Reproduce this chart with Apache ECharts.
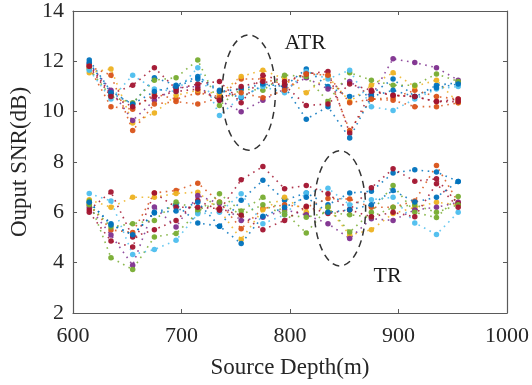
<!DOCTYPE html>
<html>
<head>
<meta charset="utf-8">
<script src="https://cdn.jsdelivr.net/npm/echarts@6/dist/echarts.min.js"></script>
<style>
html,body{margin:0;padding:0;background:#fff;}
#chart{width:532px;height:385px;}
</style>
</head>
<body>
<div id="chart"></div>
<script>
// Source depths (m)
var depths = [615,635,655,675,695,715,735,755,775,795,815,835,855,875,895,915,935,955];

// ATR output SNR (dB)
var atrBlue    = [12.05,10.80,10.30,11.35,11.05,11.40,10.85,10.55,11.05,11.00,11.70,11.00,10.60,10.70,11.30,10.60,11.05,11.15];
var atrOrange  = [11.75,10.20,10.10,10.70,10.50,10.75,10.60,11.30,11.30,11.10,11.55,11.45, 9.25,10.50,10.55,10.85,10.60,10.50];
var atrYellow  = [11.55,11.70, 9.55, 9.95,10.65,10.85,10.70,11.40,11.65,11.30,10.75,11.40,10.40,11.05,11.55,11.00,11.25,10.35];
var atrPurple  = [11.90,10.85, 9.65,10.45,10.95,11.00,10.45,10.00,10.45,10.90,11.35,10.90,11.20,10.60,12.10,11.95,11.75,11.25];
var atrGreen   = [11.70,10.60,10.35,11.25,11.35,12.05,10.25,10.90,10.85,11.45,11.40,10.40,11.55,11.25,11.05,11.05,11.50,11.20];
var atrCyan    = [11.65,10.50,11.45,10.90,10.80,11.75, 9.85,10.60,11.00,10.75,11.60,11.30,11.65,10.20,10.05,10.50,10.90,11.00];
var atrRed     = [11.85,10.70,11.05,11.75,10.90,11.10,11.20,10.35,11.45,11.20,11.50,11.60, 9.15,10.80,10.65,10.60,10.40,10.50];
var atrBlue2   = [11.95,10.75,10.30,10.80,11.00,11.30,10.80,10.90,11.10,11.00, 9.70,10.20, 8.95,10.60,10.85,10.60,10.95,11.10];
var atrOrange2 = [11.80,11.45, 9.25,10.30,10.40,10.30,10.55,10.75,10.55,10.85,11.50,11.45,10.35,10.50,10.45,10.20,10.20,10.35];
var atrRed2    = [11.80,10.60,10.20,10.60,10.80,10.90,10.45,11.00,11.20,11.05,10.25,10.30,11.10,10.85,10.65,10.60,10.40,10.40];

// TR output SNR (dB)
var trBlue   = [6.40,5.55,5.10,5.97,6.30,5.58,5.45,6.48,7.27,6.48,6.77,6.30,6.77,6.84,7.56,7.69,7.60,7.23];
var trOrange = [6.30,5.30,5.20,6.77,6.87,7.16,6.41,5.35,6.15,6.30,6.20,6.55,6.53,6.20,6.20,6.45,7.86,6.40];
var trYellow = [6.50,6.20,6.60,6.60,6.75,6.80,6.10,4.92,6.10,6.60,6.00,6.20,5.10,5.31,5.95,6.20,6.40,6.30];
var trPurple = [6.20,5.10,3.90,6.21,5.42,6.67,6.35,5.68,5.80,6.10,5.90,5.55,4.96,5.75,5.68,6.10,6.20,6.40];
var trGreen  = [6.45,4.20,3.73,5.02,5.16,6.00,6.74,6.05,6.60,6.00,5.18,6.20,5.22,6.00,7.07,6.00,5.79,6.63];
var trCyan   = [6.75,6.45,4.32,4.52,4.89,5.94,6.00,6.74,5.55,5.90,6.77,6.96,6.30,6.50,6.60,5.58,5.12,6.00];
var trRed    = [6.10,6.81,5.02,5.31,5.68,6.47,6.08,7.29,7.82,6.94,7.07,6.74,6.10,6.98,7.73,7.24,7.33,6.34];
var trGreen2 = [6.30,5.42,5.55,5.68,6.41,6.10,6.40,5.90,6.30,5.90,5.80,6.00,5.90,5.82,6.20,6.30,6.00,6.30];
var trRed2   = [6.00,4.86,4.62,6.77,6.20,6.20,6.15,5.88,5.31,5.68,6.24,5.95,6.10,5.82,6.00,5.82,7.14,6.20];
var trBlue2  = [6.40,5.50,5.11,6.00,6.05,6.40,5.45,4.76,5.84,6.20,6.60,6.00,6.10,6.30,6.87,6.41,6.60,7.23];

// Axis ticks
var xTicks = [600,700,800,900,1000];
var yTicks = [2,4,6,8,10,12,14];

// Annotations (data coordinates)
var atrEllipse = {x:762, y:10.76, rx:24.5, ry:2.29};
var trEllipse  = {x:846, y:6.16, rx:23.7, ry:2.29};
var atrLabel = {text:'ATR', x:814, y:12.71};
var trLabel  = {text:'TR', x:890, y:3.45};

var C = {blue:'#0072BD', orange:'#D95319', yellow:'#EDB120', purple:'#7E2F8E', green:'#77AC30', cyan:'#4DBEEE', red:'#A2142F'};

var seriesDefs = [
  [atrBlue,C.blue],[atrOrange,C.orange],[atrYellow,C.yellow],[atrPurple,C.purple],[atrGreen,C.green],
  [atrCyan,C.cyan],[atrRed,C.red],[atrBlue2,C.blue],[atrOrange2,C.orange],[atrRed2,C.red],
  [trBlue,C.blue],[trOrange,C.orange],[trYellow,C.yellow],[trPurple,C.purple],[trGreen,C.green],
  [trCyan,C.cyan],[trRed,C.red],[trGreen2,C.green],[trRed2,C.red],[trBlue2,C.blue]
];

var FONT = "'Liberation Serif', 'DejaVu Serif', serif";
var TXT = '#262626';
var AX = '#5a5a5a';

var series = seriesDefs.map(function(d){
  return {
    type:'line',
    data: depths.map(function(x,i){ return [x, d[0][i]]; }),
    symbol:'circle', symbolSize:5.5,
    itemStyle:{color:d[1], opacity:0.95},
    lineStyle:{color:d[1], width:1.6, type:[1.6,4.6], opacity:0.85},
    emphasis:{disabled:true},
    animation:false
  };
});

var chart = echarts.init(document.getElementById('chart'), null, {renderer:'canvas'});
var axisCommon = {
  axisLine:{show:true, onZero:false, lineStyle:{color:AX, width:1.2}},
  axisTick:{show:true, inside:true, length:4, lineStyle:{color:AX, width:1}},
  splitLine:{show:false}
};
chart.setOption({
  backgroundColor:'#fff',
  animation:false,
  grid:{left:73, right:24, top:10, bottom:72, containLabel:false},
  xAxis:[
    Object.assign({type:'value', min:xTicks[0], max:xTicks[xTicks.length-1], interval:100, position:'bottom',
      name:'Source Depth(m)', nameLocation:'middle', nameGap:43,
      nameTextStyle:{fontFamily:FONT, fontSize:23, color:TXT},
      axisLabel:{fontFamily:FONT, fontSize:22, color:TXT, margin:12, formatter:function(v){return String(v);}}}, axisCommon),
    Object.assign({type:'value', min:xTicks[0], max:xTicks[xTicks.length-1], interval:100, position:'top',
      axisLabel:{show:false}}, axisCommon)
  ],
  yAxis:[
    Object.assign({type:'value', min:yTicks[0], max:yTicks[yTicks.length-1], interval:2, position:'left',
      name:'Ouput SNR(dB)', nameLocation:'middle', nameGap:41,
      nameTextStyle:{fontFamily:FONT, fontSize:23, color:TXT},
      axisLabel:{fontFamily:FONT, fontSize:22, color:TXT, margin:9}}, axisCommon),
    Object.assign({type:'value', min:yTicks[0], max:yTicks[yTicks.length-1], interval:2, position:'right',
      axisLabel:{show:false}}, axisCommon)
  ],
  series: series
});

function px(x,y){ return chart.convertToPixel({gridIndex:0}, [x,y]); }
function ellipseGraphic(e){
  var c = px(e.x, e.y);
  var r = px(e.x + e.rx, e.y + e.ry);
  return {type:'ellipse', shape:{cx:c[0], cy:c[1], rx:Math.abs(r[0]-c[0]), ry:Math.abs(r[1]-c[1])},
    style:{fill:null, stroke:'#333', lineWidth:1.5, lineDash:[7,5]}, z:100, silent:true};
}
function labelGraphic(l){
  var p = px(l.x, l.y);
  return {type:'text', x:p[0], y:p[1], style:{text:l.text, fill:'#1a1a1a', font:"22px " + FONT, align:'center', verticalAlign:'middle'}, z:100, silent:true};
}
chart.setOption({graphic:[ellipseGraphic(atrEllipse), ellipseGraphic(trEllipse), labelGraphic(atrLabel), labelGraphic(trLabel)]});
</script>
</body>
</html>
